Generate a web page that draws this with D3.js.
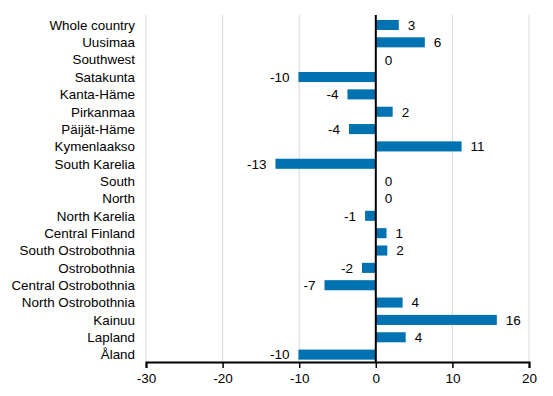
<!DOCTYPE html>
<html><head><meta charset="utf-8">
<script src="https://cdn.jsdelivr.net/npm/d3@7"></script>
<style>body{margin:0;background:#fff}svg{display:block}text{font-family:"Liberation Sans",Arial,sans-serif}</style>
</head><body>
<svg id="c" width="553" height="396"></svg>
<script>
const categories = ["Whole country","Uusimaa","Southwest","Satakunta","Kanta-Häme","Pirkanmaa","Päijät-Häme","Kymenlaakso","South Karelia","South","North","North Karelia","Central Finland","South Ostrobothnia","Ostrobothnia","Central Ostrobothnia","North Ostrobothnia","Kainuu","Lapland","Åland"];
const values = [3.0,6.4,0,-10.1,-3.7,2.2,-3.5,11.2,-13.1,0,0,-1.4,1.4,1.5,-1.8,-6.7,3.5,15.8,3.9,-10.1];
const xTicks = [-30,-20,-10,0,10,20];

const fmt = d => (+d).toFixed(0).replace("-0","0");

const svg = d3.select("#c");
const m = {l:146, r:529, t:15, b:362};
const x = d3.scaleLinear().domain([-30,20]).range([m.l, m.r]);
const y = d3.scaleBand().domain(categories).range([m.t + 1.3, m.b + 1.3]).paddingInner(0.42).paddingOuter(0.21);

// gridlines
svg.append("g").selectAll("line").data(xTicks.filter(d=>d!==0)).join("line")
  .attr("x1",d=>x(d)).attr("x2",d=>x(d)).attr("y1",m.t).attr("y2",m.b)
  .attr("stroke","#d9d9d9").attr("stroke-width",1);

// bars
svg.append("g").selectAll("rect").data(values).join("rect")
  .attr("x",(d)=>x(Math.min(0,d)))
  .attr("width",d=>Math.abs(x(d)-x(0)))
  .attr("y",(d,i)=>y(categories[i]))
  .attr("height",y.bandwidth())
  .attr("fill","#0072b1");

// value labels
svg.append("g").selectAll("text").data(values).join("text")
  .attr("x",d=> d<0 ? x(d)-9 : x(d)+9)
  .attr("y",(d,i)=>y(categories[i])+y.bandwidth()/2)
  .attr("dy","0.36em")
  .attr("text-anchor",d=>d<0?"end":"start")
  .attr("font-size",13.5).attr("fill","#000")
  .text(d=>fmt(d));

// category labels
svg.append("g").selectAll("text").data(categories).join("text")
  .attr("x",135).attr("y",d=>y(d)+y.bandwidth()/2).attr("dy","0.36em")
  .attr("text-anchor","end").attr("font-size",13.4).attr("fill","#000")
  .text(d=>d);

// zero line
svg.append("line").attr("x1",x(0)).attr("x2",x(0)).attr("y1",m.t).attr("y2",m.b)
  .attr("stroke","#000").attr("stroke-width",2);

// x axis
const ax = svg.append("g").attr("transform",`translate(0,${m.b})`)
  .call(d3.axisBottom(x).tickValues(xTicks).tickSize(6).tickPadding(5).tickFormat(fmt));
ax.select(".domain").attr("stroke","#000").attr("stroke-width",2);
ax.selectAll(".tick line").attr("stroke","#000").attr("stroke-width",1.5);
ax.selectAll("text").attr("font-size",13.5).attr("fill","#000").style("font-family","Liberation Sans, Arial, sans-serif");
</script>
</body></html>
